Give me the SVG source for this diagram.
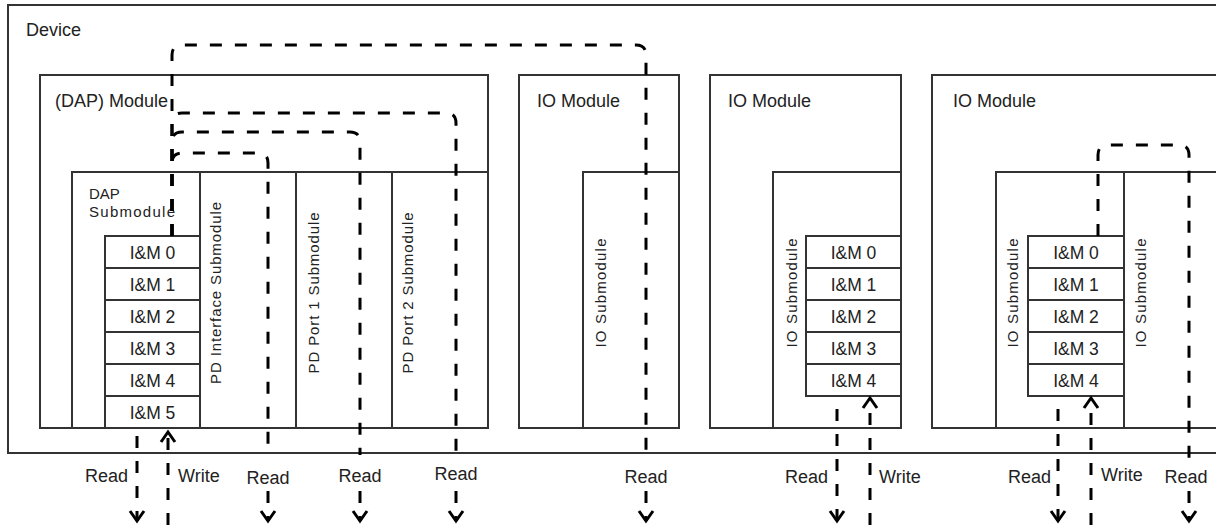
<svg xmlns="http://www.w3.org/2000/svg" width="1216" height="525" viewBox="0 0 1216 525">
<style>
.box{fill:none;stroke:#333;stroke-width:2}
.t{font-family:"Liberation Sans",Arial,sans-serif;font-size:18px;fill:#222}
.im{font-family:"Liberation Sans",Arial,sans-serif;font-size:17.5px;fill:#222;text-anchor:middle}
.s{font-family:"Liberation Sans",Arial,sans-serif;font-size:15px;fill:#222}
.v{font-family:"Liberation Sans",Arial,sans-serif;font-size:15px;fill:#222;text-anchor:middle}
.d{fill:none;stroke:#000;stroke-width:3;stroke-dasharray:12 13}
.ar{marker-end:url(#arrow)}
.m{text-anchor:middle}
.e{text-anchor:end}
</style>
<defs>
<marker id="arrow" markerUnits="userSpaceOnUse" markerWidth="24" markerHeight="24" viewBox="-12 -12 24 24" refX="0" refY="0" orient="auto">
<path d="M-10,-7 L0,0 L-10,7" fill="none" stroke="#000" stroke-width="3" stroke-dasharray="none"/>
</marker>
</defs>
<rect width="1216" height="525" fill="#fff"/>

<g id="device">
<rect class="box" x="8" y="5" width="1230" height="448"/>
<text class="t" x="26" y="36">Device</text>
</g>

<g id="dap-module">
<rect class="box" x="40" y="75" width="448" height="353"/>
<text class="t" x="55" y="107">(DAP) Module</text>
</g>

<g id="dap-submodule">
<rect class="box" x="72" y="172" width="128" height="256"/>
<text class="s" x="89" y="199">DAP</text>
<text class="s" x="89" y="217" textLength="86" lengthAdjust="spacing">Submodule</text>
<rect class="box" x="105" y="236" width="95" height="32"/>
<rect class="box" x="105" y="268" width="95" height="32"/>
<rect class="box" x="105" y="300" width="95" height="32"/>
<rect class="box" x="105" y="332" width="95" height="32"/>
<rect class="box" x="105" y="364" width="95" height="32"/>
<rect class="box" x="105" y="396" width="95" height="32"/>
<text class="im" x="152.5" y="259">I&amp;M 0</text>
<text class="im" x="152.5" y="291">I&amp;M 1</text>
<text class="im" x="152.5" y="323">I&amp;M 2</text>
<text class="im" x="152.5" y="355">I&amp;M 3</text>
<text class="im" x="152.5" y="387">I&amp;M 4</text>
<text class="im" x="152.5" y="419">I&amp;M 5</text>
</g>

<g id="pd-interface-submodule">
<rect class="box" x="200" y="172" width="96" height="256"/>
<text class="v" transform="translate(221,293) rotate(-90)" textLength="182" lengthAdjust="spacing">PD Interface Submodule</text>
</g>

<g id="pd-port1-submodule">
<rect class="box" x="296" y="172" width="96" height="256"/>
<text class="v" transform="translate(319,293) rotate(-90)" textLength="161" lengthAdjust="spacing">PD Port 1 Submodule</text>
</g>

<g id="pd-port2-submodule">
<rect class="box" x="392" y="172" width="96" height="256"/>
<text class="v" transform="translate(413,293) rotate(-90)" textLength="161" lengthAdjust="spacing">PD Port 2 Submodule</text>
</g>

<g id="io-module-1">
<rect class="box" x="519" y="75" width="160" height="353"/>
<text class="t" x="537" y="107">IO Module</text>
<rect class="box" x="583" y="172" width="96" height="256"/>
<text class="v" transform="translate(606,293) rotate(-90)" textLength="109" lengthAdjust="spacing">IO Submodule</text>
</g>

<g id="io-module-2">
<rect class="box" x="710" y="75" width="191" height="353"/>
<text class="t" x="728" y="107">IO Module</text>
<rect class="box" x="773" y="172" width="128" height="256"/>
<text class="v" transform="translate(797,293) rotate(-90)" textLength="109" lengthAdjust="spacing">IO Submodule</text>
<rect class="box" x="806" y="236" width="95" height="32"/>
<rect class="box" x="806" y="268" width="95" height="32"/>
<rect class="box" x="806" y="300" width="95" height="32"/>
<rect class="box" x="806" y="332" width="95" height="32"/>
<rect class="box" x="806" y="364" width="95" height="32"/>
<text class="im" x="853.5" y="259">I&amp;M 0</text>
<text class="im" x="853.5" y="291">I&amp;M 1</text>
<text class="im" x="853.5" y="323">I&amp;M 2</text>
<text class="im" x="853.5" y="355">I&amp;M 3</text>
<text class="im" x="853.5" y="387">I&amp;M 4</text>
</g>

<g id="io-module-3">
<rect class="box" x="932" y="75" width="300" height="353"/>
<text class="t" x="953" y="107">IO Module</text>
<rect class="box" x="996" y="172" width="128" height="256"/>
<text class="v" transform="translate(1018,293) rotate(-90)" textLength="109" lengthAdjust="spacing">IO Submodule</text>
<rect class="box" x="1028" y="236" width="96" height="32"/>
<rect class="box" x="1028" y="268" width="96" height="32"/>
<rect class="box" x="1028" y="300" width="96" height="32"/>
<rect class="box" x="1028" y="332" width="96" height="32"/>
<rect class="box" x="1028" y="364" width="96" height="32"/>
<text class="im" x="1076" y="259">I&amp;M 0</text>
<text class="im" x="1076" y="291">I&amp;M 1</text>
<text class="im" x="1076" y="323">I&amp;M 2</text>
<text class="im" x="1076" y="355">I&amp;M 3</text>
<text class="im" x="1076" y="387">I&amp;M 4</text>
<rect class="box" x="1124" y="172" width="110" height="256"/>
<text class="v" transform="translate(1146,293) rotate(-90)" textLength="109" lengthAdjust="spacing">IO Submodule</text>
</g>

<g id="connectors">
<path class="d" d="M172,236 V55 Q172,45 182,45 H636 Q646,45 646,55 V455"/>
<path class="d" d="M172,236 V123 Q172,113 182,113 H446 Q456,113 456,123 V455"/>
<path class="d" d="M172,236 V142 Q172,132 182,132 H350 Q360,132 360,142 V455"/>
<path class="d" d="M172,236 V163 Q172,153 182,153 H258 Q268,153 268,163 V455"/>
<path class="d ar" d="M268,491 V521"/>
<path class="d ar" d="M360,491 V521"/>
<path class="d ar" d="M456,491 V521"/>
<path class="d ar" d="M646,491 V521"/>
<path class="d ar" d="M137,436 V521"/>
<path class="d ar" d="M168,525 V432"/>
<path class="d ar" d="M837,409 V521"/>
<path class="d ar" d="M870,525 V398"/>
<path class="d ar" d="M1058,409 V521"/>
<path class="d ar" d="M1091,525 V398"/>
<path class="d" d="M1098,236 V155 Q1098,145 1108,145 H1179 Q1189,145 1189,155 V460"/>
<path class="d ar" d="M1189,491 V521"/>
<text class="t e" x="128" y="482">Read</text>
<text class="t" x="178" y="482">Write</text>
<text class="t m" x="268" y="484">Read</text>
<text class="t m" x="360" y="482">Read</text>
<text class="t m" x="456" y="480">Read</text>
<text class="t m" x="646" y="483">Read</text>
<text class="t e" x="828" y="483">Read</text>
<text class="t" x="879" y="483">Write</text>
<text class="t e" x="1051" y="483">Read</text>
<text class="t" x="1101" y="481">Write</text>
<text class="t m" x="1186" y="483">Read</text>
</g>
</svg>
